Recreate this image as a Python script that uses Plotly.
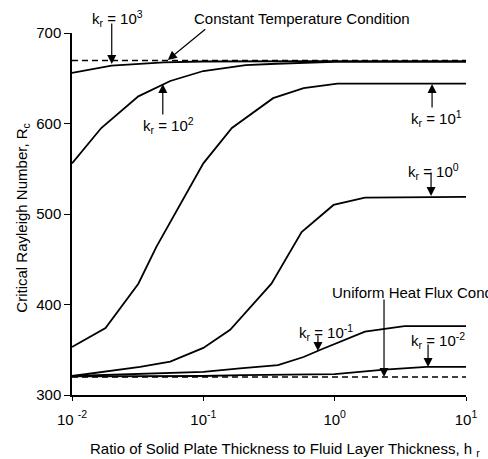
import plotly.graph_objects as go

# Ratio of solid plate thickness to fluid layer thickness, h_r
h_k3 = [0.01, 0.02, 0.05, 0.1, 1.0, 10.0]
R_k3 = [656, 664, 667.5, 668.5, 669, 669]

h_k2 = [0.01, 0.0167, 0.032, 0.056, 0.1, 0.21, 0.36, 1.0, 10.0]
R_k2 = [556, 595, 630, 647, 658, 664.5, 666, 668, 668]

h_k1 = [0.01, 0.018, 0.032, 0.044, 0.1, 0.165, 0.34, 0.58, 1.05, 10.0]
R_k1 = [353, 374, 423, 464, 556, 595, 628, 639, 644, 644]

h_k0 = [0.01, 0.018, 0.033, 0.056, 0.1, 0.16, 0.33, 0.56, 0.98, 1.7, 10.0]
R_k0 = [321, 326, 331, 337, 352, 372, 423, 480, 510, 518, 519]

h_km1 = [0.01, 0.1, 0.19, 0.37, 0.58, 0.78, 1.7, 3.4, 10.0]
R_km1 = [321, 325.5, 329.5, 333, 342, 350, 370, 376, 376]

h_km2 = [0.01, 0.1, 0.2, 1.0, 2.4, 5.0, 10.0]
R_km2 = [320.5, 321, 322, 323, 328, 331, 331]

h_limits = [0.01, 10.0]
R_const_temp = [669.5, 669.5]
R_uniform_flux = [320, 320]

x_tickvals = [0.01, 0.1, 1, 10]
x_ticktext = ["10 <sup>-2</sup>", "10<sup>-1</sup>", "10<sup>0</sup>", "10<sup>1</sup>"]
y_tickvals = [300, 400, 500, 600, 700]

FONT = "Liberation Sans, Arial, Helvetica, sans-serif"
TXT = 15

fig = go.Figure()
for hx, ry in [(h_k3, R_k3), (h_k2, R_k2), (h_k1, R_k1), (h_k0, R_k0),
               (h_km1, R_km1), (h_km2, R_km2)]:
    fig.add_trace(go.Scatter(x=hx, y=ry, mode="lines",
                             line=dict(color="black", width=1.8),
                             showlegend=False, hoverinfo="skip"))
for ry in [R_const_temp, R_uniform_flux]:
    fig.add_trace(go.Scatter(x=h_limits, y=ry, mode="lines",
                             line=dict(color="black", width=1.5, dash="6px,4px"),
                             showlegend=False, hoverinfo="skip"))

# pixel -> axis helpers (plot area: x 72.3..466, y 33..395)
def hx_of(px):          # log10(h) for annotations on the log axis
    return -2 + (px - 72.3) / 131.2
def R_of(py):
    return 300 + (395 - py) / 0.905
def px_paper(px):
    return (px - 72.3) / 393.7
def py_paper(py):
    return (395 - py) / 362.0

def arrow(px, py, ax, ay):
    fig.add_annotation(x=hx_of(px), y=R_of(py), xref="x", yref="y", text="",
                       showarrow=True, ax=ax, ay=ay, axref="pixel", ayref="pixel",
                       arrowhead=2, arrowsize=1.5, arrowwidth=1.2,
                       arrowcolor="black")

def label(px, py, text, xanchor="center"):
    fig.add_annotation(x=px_paper(px), y=py_paper(py), xref="paper", yref="paper",
                       text=text, showarrow=False, xanchor=xanchor, yanchor="middle",
                       font=dict(family=FONT, size=TXT, color="black"))

# k_r = 10^3
arrow(112, 64, 0, -42)
label(118, 19, "k<sub>r</sub> = 10<sup>3</sup>")
# constant temperature
arrow(168, 60, 39, -32)
label(192, 19, "Constant Temperature Condition", "left")
# k_r = 10^2
arrow(163, 84, 0, 32)
label(169, 125, "k<sub>r</sub> = 10<sup>2</sup>")
# k_r = 10^1
arrow(432, 84, 0, 25)
label(437, 118, "k<sub>r</sub> = 10<sup>1</sup>")
# k_r = 10^0
arrow(431, 196, 0, -25)
label(434, 171, "k<sub>r</sub> = 10<sup>0</sup>")
# uniform heat flux
arrow(384, 377, 0, -79)
label(330, 292, "Uniform Heat Flux Condition", "left")
# k_r = 10^-1
arrow(318, 351, 0, -17)
label(326, 332, "k<sub>r</sub> = 10<sup>-1</sup>")
# k_r = 10^-2
arrow(428, 367, 0, -24)
label(438, 340, "k<sub>r</sub> = 10<sup>-2</sup>")

# axis titles
label(285, 450, "Ratio of Solid Plate Thickness to Fluid Layer Thickness, h <sub>r</sub>")
fig.add_annotation(xref="paper", yref="paper", x=px_paper(22), y=py_paper(218),
                   text="Critical Rayleigh Number, R<sub>c</sub>", textangle=-90,
                   showarrow=False, xanchor="center", yanchor="middle",
                   font=dict(family=FONT, size=TXT, color="black"))

fig.update_xaxes(type="log", range=[-2, 1], tickvals=x_tickvals, ticktext=x_ticktext,
                 showline=True, linecolor="black", linewidth=1.5, ticks="outside",
                 ticklen=4, tickcolor="black", showgrid=False, zeroline=False,
                 ticklabelstandoff=6,
                 tickfont=dict(family=FONT, size=15, color="black"))
fig.update_yaxes(range=[300, 700], tickvals=y_tickvals,
                 showline=True, linecolor="black", linewidth=1.5, ticks="outside",
                 ticklen=6, tickcolor="black", showgrid=False, zeroline=False,
                 tickfont=dict(family=FONT, size=15, color="black"))
fig.update_layout(width=488, height=459, margin=dict(l=72, r=22, t=33, b=64),
                  plot_bgcolor="white", paper_bgcolor="white",
                  font=dict(family=FONT, color="black"))
fig.write_html("out.html")
